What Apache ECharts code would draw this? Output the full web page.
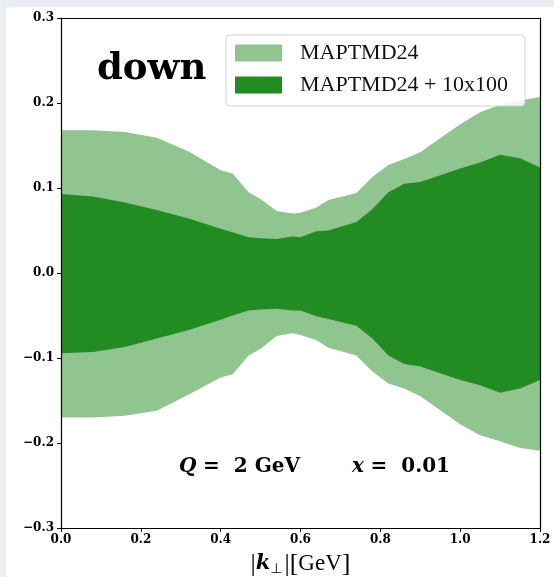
<!DOCTYPE html>
<html>
<head>
<meta charset="utf-8">
<script src="https://cdn.jsdelivr.net/npm/echarts@6/dist/echarts.min.js"></script>
<style>
  html, body { margin: 0; padding: 0; background: #eaedf2; }
  #chart { width: 554px; height: 577px; }
</style>
</head>
<body>
<div id="chart"></div>
<script>
// transverse momentum grid |k_T| in GeV
const kT = [0, 0.08, 0.16, 0.24, 0.32, 0.40, 0.43, 0.47, 0.50, 0.54, 0.58, 0.60,
            0.64, 0.67, 0.74, 0.78, 0.82, 0.86, 0.90, 1.00, 1.05, 1.10, 1.15, 1.20];

// MAPTMD24 uncertainty band
const baseUpper = [0.168, 0.168, 0.166, 0.159, 0.143, 0.121, 0.117, 0.095, 0.087, 0.073, 0.070, 0.071,
                   0.077, 0.086, 0.094, 0.113, 0.127, 0.134, 0.142, 0.175, 0.189, 0.198, 0.203, 0.207];
const baseLower = [-0.170, -0.170, -0.168, -0.162, -0.143, -0.123, -0.119, -0.097, -0.089, -0.074, -0.071, -0.073,
                   -0.079, -0.088, -0.097, -0.116, -0.130, -0.136, -0.145, -0.178, -0.191, -0.198, -0.206, -0.209];

// MAPTMD24 + 10x100 uncertainty band
const extUpper = [0.093, 0.090, 0.083, 0.074, 0.064, 0.052, 0.048, 0.042, 0.041, 0.040, 0.043, 0.042,
                  0.049, 0.050, 0.060, 0.075, 0.095, 0.105, 0.107, 0.123, 0.130, 0.139, 0.135, 0.124];
const extLower = [-0.0945, -0.093, -0.087, -0.077, -0.067, -0.055, -0.050, -0.044, -0.043, -0.042, -0.044, -0.044,
                  -0.051, -0.054, -0.062, -0.077, -0.097, -0.107, -0.110, -0.126, -0.132, -0.141, -0.136, -0.126];

const seriesNames = ['MAPTMD24', 'MAPTMD24 + 10x100'];

const LIGHT = '#90c590';
const DARK = '#228b22';

// one filled polygon per band: upper edge left->right, lower edge right->left
function bandSeries(name, lower, upper, color, z) {
  return {
    type: 'custom', name: name, z: z, silent: true,
    coordinateSystem: 'cartesian2d',
    itemStyle: { color: color },
    encode: { x: 0, y: [1, 2] },
    data: kT.map((k, i) => [k, lower[i], upper[i]]),
    renderItem: function (params, api) {
      if (params.dataIndex !== 0) return null;
      const pts = [];
      for (let i = 0; i < kT.length; i++) pts.push(api.coord([kT[i], upper[i]]));
      for (let i = kT.length - 1; i >= 0; i--) pts.push(api.coord([kT[i], lower[i]]));
      return {
        type: 'polygon',
        shape: { points: pts },
        style: { fill: color, stroke: null }
      };
    }
  };
}

const fmt = v => {
  const s = (Math.abs(v) < 1e-9 ? 0 : v).toFixed(1);
  return s.replace('-', '\u2212');
};

const annot = {
  i: { fontFamily: 'DejaVu Serif', fontStyle: 'italic', fontWeight: 'bold', fontSize: 20 },
  b: { fontFamily: 'DejaVu Serif', fontWeight: 'bold', fontSize: 20 }
};

const frameLine = { show: true, onZero: false, lineStyle: { color: '#000', width: 1.2 } };
const tickLabel = { fontFamily: 'DejaVu Serif', fontWeight: 'bold', fontSize: 12, color: '#000' };

const chart = echarts.init(document.getElementById('chart'), null, { renderer: 'canvas' });
chart.setOption({
  backgroundColor: '#eaedf2',
  animation: false,
  grid: { left: 61, right: 14, top: 18, bottom: 49, show: true, borderWidth: 0, backgroundColor: '#fff',
          containLabel: false, outerBoundsMode: 'none' },
  graphic: [
    { type: 'rect', z: -10, silent: true, shape: { x: 6, y: 7, width: 548, height: 570 }, style: { fill: '#fff' } },
    { type: 'text', z: 10, left: 97, top: 51, style: { text: 'down', fontFamily: 'DejaVu Serif', fontWeight: 'bold', fontSize: 37, fill: '#000' } },
    { type: 'text', z: 10, left: 179, top: 457, style: { text: '{i|Q}  {b|=  2 GeV}', fill: '#000', rich: annot } },
    { type: 'text', z: 10, left: 352, top: 457, style: { text: '{i|x}  {b|=  0.01}', fill: '#000', rich: annot } }
  ],
  legend: {
    data: seriesNames, orient: 'vertical', left: 226, top: 35,
    padding: [7, 17, 10, 9], itemGap: 10, itemWidth: 47, itemHeight: 17, icon: 'rect',
    backgroundColor: 'rgba(255,255,255,0.85)', borderColor: '#d3d3d3', borderWidth: 1, borderRadius: 4,
    textStyle: { fontFamily: 'Liberation Serif', fontSize: 22, color: '#111', padding: [0, 0, 0, 13], lineHeight: 22 },
    selectedMode: false, z: 20
  },
  xAxis: [{
    type: 'value', min: 0, max: 1.2, interval: 0.2, z: 10,
    name: '{d||}{k|k}{s|\u22a5}{d||[}{n|GeV}{d|]}', nameLocation: 'middle', nameGap: 23,
    nameTextStyle: { rich: {
      d: { fontFamily: 'Liberation Serif', fontSize: 26, color: '#000', lineHeight: 26 },
      n: { fontFamily: 'Liberation Serif', fontSize: 23, color: '#000', lineHeight: 26 },
      k: { fontFamily: 'DejaVu Serif', fontStyle: 'italic', fontWeight: 'bold', fontSize: 21, color: '#000', lineHeight: 26 },
      s: { fontFamily: 'DejaVu Sans', fontSize: 14, color: '#000', lineHeight: 26, padding: [10, 2, 0, 0] }
    } },
    splitLine: { show: false },
    axisLine: frameLine,
    axisTick: { show: true, inside: false, length: 4, lineStyle: { color: '#000' } },
    axisLabel: Object.assign({ formatter: fmt, margin: 6 }, tickLabel)
  }, {
    type: 'value', position: 'top', min: 0, max: 1.2, z: 10,
    splitLine: { show: false }, axisTick: { show: false }, axisLabel: { show: false },
    axisLine: frameLine
  }],
  yAxis: [{
    type: 'value', min: -0.3, max: 0.3, interval: 0.1, z: 10,
    splitLine: { show: false },
    axisLine: frameLine,
    axisTick: { show: true, inside: false, length: 4, lineStyle: { color: '#000' } },
    axisLabel: Object.assign({ formatter: fmt, margin: 7 }, tickLabel)
  }, {
    type: 'value', position: 'right', min: -0.3, max: 0.3, z: 10,
    splitLine: { show: false }, axisTick: { show: false }, axisLabel: { show: false },
    axisLine: frameLine
  }],
  series: [
    bandSeries(seriesNames[0], baseLower, baseUpper, LIGHT, 2),
    bandSeries(seriesNames[1], extLower, extUpper, DARK, 3)
  ]
});
</script>
</body>
</html>
